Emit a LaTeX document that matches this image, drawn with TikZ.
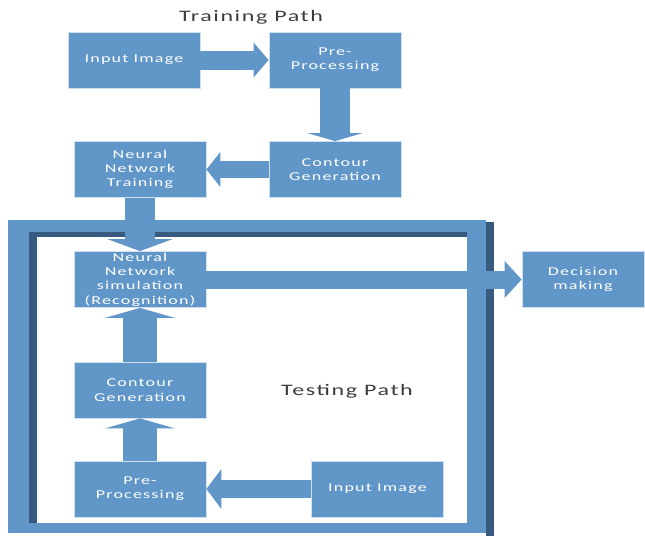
\documentclass[tikz,border=0pt]{standalone}
\usepackage{fontspec}
\usepackage{xcolor}
\usepackage{tikz}
\usetikzlibrary{arrows.meta}
\newfontfamily\boxfont[FakeStretch=1.5,LetterSpace=10]{Carlito}
\definecolor{boxblue}{RGB}{96,150,200}
\definecolor{edgeblue}{RGB}{55,90,128}
\definecolor{titlegray}{RGB}{60,60,60}

\begin{document}
\begin{tikzpicture}[x = 1pt, y = -1pt,
	block/.style = {fill=boxblue, draw=white!70!boxblue, line width=0.8pt, minimum width=132pt, minimum height=56pt, inner sep=0pt, align=center, text=white, font=\boxfont\fontsize{12}{14.3}\selectfont},
	flow/.style n args = {3}{draw=boxblue, line width=#1, -{Triangle[width=#2, length=#3, line width=0pt]}},
	heading/.style = {text=titlegray, font=\boxfont\fontsize{16}{19}\selectfont}]
	\useasboundingbox (0,0) rectangle (645,536);
	
	% training path
	\node[heading] (trainlabel) at (251,17) {Training Path};
	\node[block] (input1) at (134,60) {Input Image};
	\node[block] (prep1) at (335,60) {Pre-\\Processing};
	\node[block] (contour1) at (335,169.5) {Contour\\Generation};
	\node[block] (train) at (140,169.5) {Neural\\Network\\Training};
	
	% testing frame
	\fill[boxblue] (8,220) rectangle (486,533);
	\fill[white] (37,237) rectangle (467,523);
	\fill[edgeblue] (29,232) rectangle (37,523);
	\fill[edgeblue] (29,232) rectangle (467,237);
	\fill[edgeblue] (486,222) rectangle (494,536);
	
	% testing path
	\node[heading] (testlabel) at (347,391) {Testing Path};
	\node[block] (simul) at (140,279.5) {Neural\\Network\\simulation\\(Recognition)};
	\node[block] (contour2) at (140,390) {Contour\\Generation};
	\node[block] (prep2) at (140,489) {Pre-\\Processing};
	\node[block] (input2) at (377.5,489) {Input Image};
	\node[block, minimum width=122pt] (decide) at (583,279.5) {Decision\\making};
	
	% arrows
	\draw[flow={19pt}{35pt}{15pt}] (input1) -- (prep1);
	\draw[flow={30pt}{55pt}{8pt}] (prep1) -- (contour1);
	\draw[flow={17pt}{35pt}{14pt}] (contour1) -- (train);
	\draw[flow={30pt}{65pt}{12pt}] (train) -- (simul);
	\draw[flow={18pt}{37pt}{17pt}] (simul) -- (decide);
	\draw[flow={18pt}{40pt}{15pt}] (input2) -- (prep2);
	\draw[flow={34pt}{70pt}{10pt}] (prep2) -- (contour2);
	\draw[flow={34pt}{70pt}{10pt}] (contour2) -- (simul);
\end{tikzpicture}
\end{document}
